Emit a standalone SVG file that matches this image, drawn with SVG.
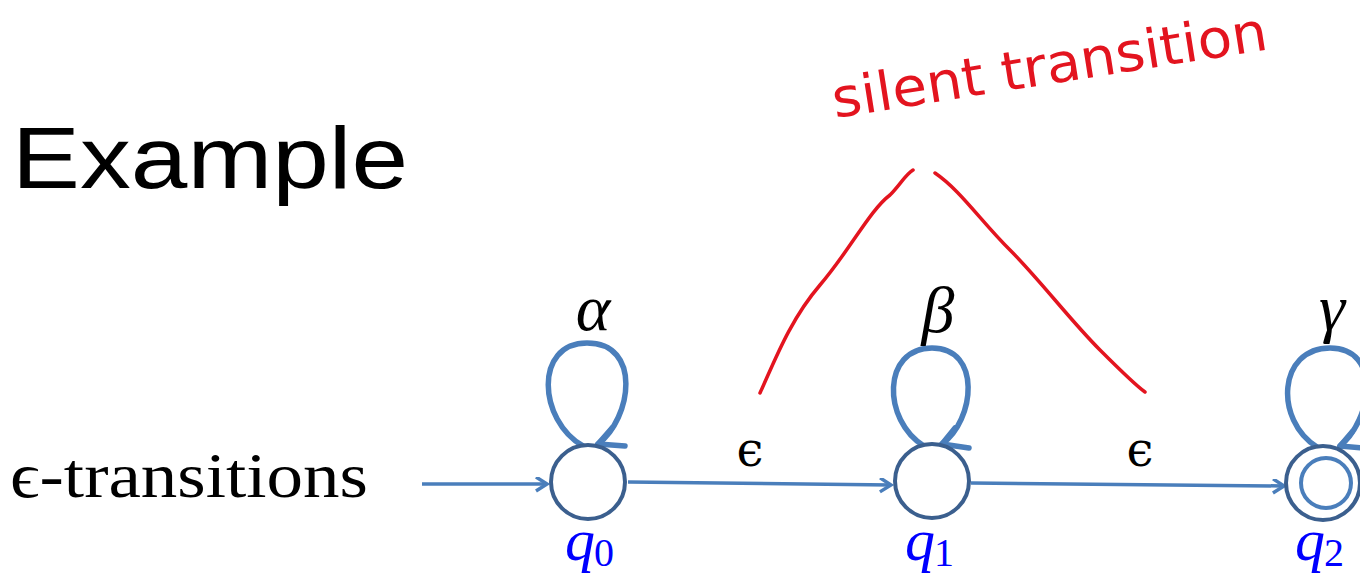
<svg xmlns="http://www.w3.org/2000/svg" width="1360" height="573" viewBox="0 0 1360 573">
<style>
.st{fill:#fff;stroke:#3B5F8E;stroke-width:4}
.loop{fill:none;stroke:#4A7EBB;stroke-width:5.5;stroke-linecap:round}
.edge{fill:none;stroke:#4A7EBB;stroke-width:3.5}
.math{font-family:"Liberation Serif","DejaVu Serif",serif;font-style:italic;fill:#000}
.eps{font-family:"DejaVu Serif",serif;fill:#000}
.ql{font-family:"Liberation Serif","DejaVu Serif",serif;fill:#0000FF}
.red{fill:none;stroke:#E3141F;stroke-width:3.5;stroke-linecap:round}
</style>
<defs>
<marker id="arr" markerWidth="16" markerHeight="16" refX="12" refY="7" orient="auto" markerUnits="userSpaceOnUse">
<path d="M1,0 L12,7 L1,14" fill="none" stroke="#4A7EBB" stroke-width="3.5"/>
</marker>
</defs>
<rect width="1360" height="573" fill="#fff"/>
<text x="12" y="188" font-family="Liberation Sans, Arial, sans-serif" font-size="88" textLength="396" lengthAdjust="spacingAndGlyphs">Example</text>
<text x="10" y="497" font-family="Liberation Serif, serif" font-size="63" textLength="358" lengthAdjust="spacingAndGlyphs">ϵ-transitions</text>
<g id="connectors">
<path class="edge" d="M422,484 L547,484" marker-end="url(#arr)"/>
<path class="edge" d="M628,482 L891,485" marker-end="url(#arr)"/>
<path class="edge" d="M971,483 L1284,486" marker-end="url(#arr)"/>
<text class="eps" x="750" y="466" font-size="48" text-anchor="middle">ϵ</text>
<text class="eps" x="1140" y="466" font-size="48" text-anchor="middle">ϵ</text>
</g>
<g id="q0">
<path class="loop" d="M583,446 C538,420 534,343 587,343 C642,343 632,418 598,444"/>
<path class="loop" d="M598,444 L625,446 M598,444 L612,428"/>
<circle class="st" cx="588" cy="482" r="37"/>
<text class="math" x="593" y="330" font-size="66" text-anchor="middle">α</text>
<text class="ql" x="565" y="560" font-size="60" font-style="italic">q</text>
<text class="ql" x="594" y="566" font-size="40">0</text>
</g>
<g id="q1">
<path class="loop" d="M924,446 C882,420 882,348 932,348 C982,348 975,420 942,444"/>
<path class="loop" d="M942,444 L969,448 M942,444 L955,428"/>
<circle class="st" cx="932" cy="481" r="37"/>
<text class="math" x="938" y="332" font-size="66" text-anchor="middle">β</text>
<text class="ql" x="905" y="560" font-size="60" font-style="italic">q</text>
<text class="ql" x="934" y="566" font-size="40">1</text>
</g>
<g id="q2">
<path class="loop" d="M1317,447 C1274,420 1278,348 1330,348 C1382,348 1372,420 1340,446"/>
<path class="loop" d="M1340,446 L1362,448 M1340,446 L1352,432"/>
<circle class="st" cx="1323" cy="483" r="37"/>
<circle cx="1326" cy="483" r="25" fill="none" stroke="#4A7EBB" stroke-width="4"/>
<text class="math" x="1332" y="330" font-size="66" text-anchor="middle">γ</text>
<text class="ql" x="1295" y="560" font-size="60" font-style="italic">q</text>
<text class="ql" x="1324" y="566" font-size="40">2</text>
</g>
<g id="annotation">
<path class="red" d="M760,393 C775,360 790,320 820,285 C850,250 870,210 890,195 C900,185 905,175 913,170"/>
<path class="red" d="M935,173 C960,190 980,220 1010,250 C1040,280 1070,320 1100,350 C1120,370 1135,385 1145,392"/>
<text x="835" y="118" transform="rotate(-9 835 118)" font-family="DejaVu Sans, sans-serif" font-size="54" fill="#E3141F" textLength="440" lengthAdjust="spacingAndGlyphs">silent transition</text>
</g>
</svg>
